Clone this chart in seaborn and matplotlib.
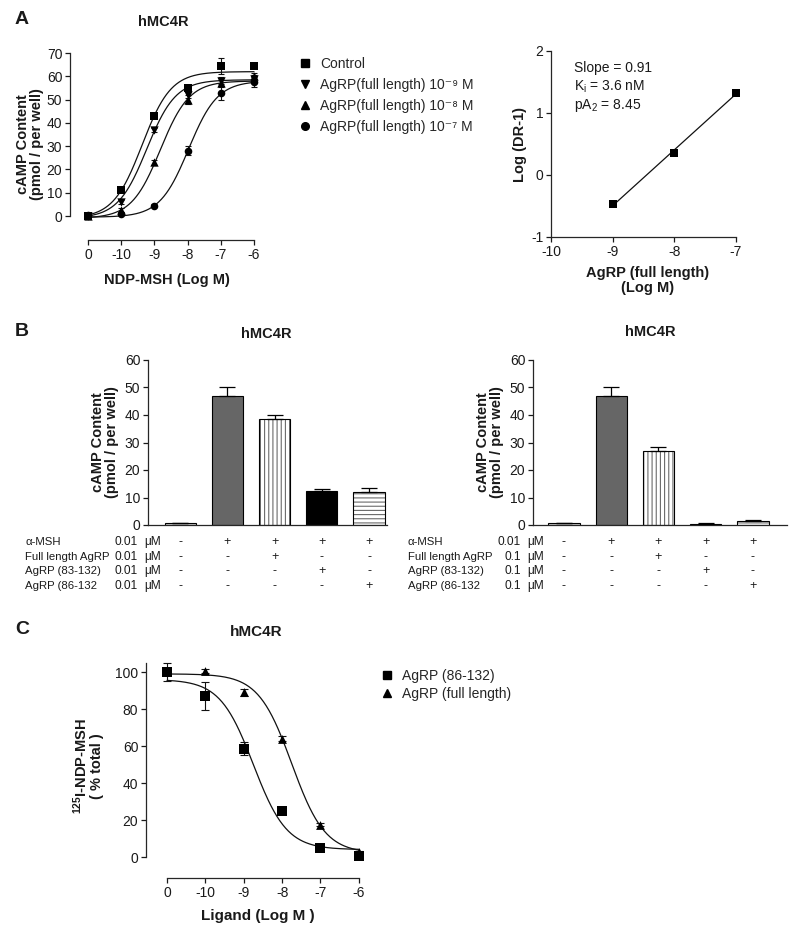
import numpy as np
import pandas as pd
import matplotlib
matplotlib.use("Agg")
import matplotlib.pyplot as plt
import matplotlib.transforms as mtransforms
import matplotlib.colors as mcolors
from matplotlib.lines import Line2D
import seaborn as sns

# ---------------- data ----------------
# Panel A (left): cAMP dose-response, NDP-MSH (log M); "0" = no agonist
a_x = [-11, -10, -9, -8, -7, -6]
a_xticklabels = ["0", "-10", "-9", "-8", "-7", "-6"]
a_labels = ["Control",
            "AgRP(full length) 10\u207b\u2079 M",
            "AgRP(full length) 10\u207b\u2078 M",
            "AgRP(full length) 10\u207b\u2077 M"]
a_control = [0.0, 11.0, 43.0, 55.0, 64.5, 64.5]
a_control_err = [0.8, 0.8, 0.8, 1.0, 3.5, 1.0]
a_ag9 = [0.0, 6.0, 37.0, 52.0, 58.0, 59.0]
a_ag9_err = [0.5, 0.8, 1.0, 1.2, 1.5, 1.5]
a_ag8 = [0.0, 2.5, 23.0, 50.0, 57.0, 60.0]
a_ag8_err = [0.5, 0.8, 1.0, 2.0, 1.5, 1.5]
a_ag7 = [0.5, 1.0, 4.5, 28.0, 53.0, 57.5]
a_ag7_err = [0.3, 0.3, 0.5, 2.0, 3.0, 2.0]
# fitted sigmoid parameters (bottom, top, logEC50)
a_fit_bottom = [-1.0, -1.0, -1.0, -0.5]
a_fit_top = [62.0, 58.5, 58.0, 58.0]
a_fit_logec50 = [-9.37, -9.23, -8.82, -7.97]

# Panel A (right): Schild plot
s_x = [-9, -8, -7]
s_y = [-0.47, 0.35, 1.33]
s_text = ["Slope = 0.91", "K$_{i}$ = 3.6 nM", "pA$_{2}$ = 8.45"]

# Panel B: bar charts
b_cats = ["basal", "aMSH", "full", "83-132", "86-132"]
b_left = [0.7, 47.0, 38.5, 12.5, 12.0]
b_left_err = [0.2, 3.0, 1.5, 0.7, 1.5]
b_right = [0.7, 47.0, 27.0, 0.5, 1.5]
b_right_err = [0.2, 3.0, 1.3, 0.1, 0.2]
b_row_labels = ["\u03b1-MSH", "Full length AgRP", "AgRP (83-132)", "AgRP (86-132"]
b_left_conc = ["0.01", "0.01", "0.01", "0.01"]
b_right_conc = ["0.01", "0.1", "0.1", "0.1"]
b_signs = [["-", "+", "+", "+", "+"],
           ["-", "-", "+", "-", "-"],
           ["-", "-", "-", "+", "-"],
           ["-", "-", "-", "-", "+"]]

# Panel C: binding displacement
c_x = [-11, -10, -9, -8, -7, -6]
c_xticklabels = ["0", "-10", "-9", "-8", "-7", "-6"]
c_labels = ["AgRP (86-132)", "AgRP (full length)"]
c_86 = [100.0, 87.0, 58.5, 25.0, 5.0, 0.5]
c_86_err = [5.0, 7.5, 3.5, 1.0, 0.6, 1.0]
c_full = [100.0, 100.5, 89.0, 64.0, 17.5, 2.5]
c_full_err = [1.0, 1.0, 2.0, 1.5, 1.0, 1.0]
c_fit_bottom = [4.0, 2.0]
c_fit_top = [96.0, 99.0]
c_fit_logic50 = [-8.75, -7.75]

# ---------------- style ----------------
sns.set_style("ticks")
plt.rcParams['font.family'] = ['Liberation Sans', 'DejaVu Sans']
plt.rcParams['mathtext.fontset'] = 'custom'
plt.rcParams['mathtext.rm'] = 'Liberation Sans'
plt.rcParams['mathtext.it'] = 'Liberation Sans:italic'
plt.rcParams['mathtext.bf'] = 'Liberation Sans:bold'
plt.rcParams['mathtext.default'] = 'regular'
plt.rcParams['axes.unicode_minus'] = False
plt.rcParams['axes.linewidth'] = 0.9
plt.rcParams['xtick.major.size'] = 3.5
plt.rcParams['ytick.major.size'] = 3.5
plt.rcParams['xtick.major.width'] = 0.9
plt.rcParams['ytick.major.width'] = 0.9
plt.rcParams['hatch.linewidth'] = 0.8
TXT = '#1a1a1a'

W, H = 800, 940
fig = plt.figure(figsize=(W / 100, H / 100), dpi=100)


def px_axes(l, t, r, b):
    return fig.add_axes([l / W, 1 - b / H, (r - l) / W, (b - t) / H])


def ftext(x, y, s, **kw):
    fig.text(x / W, 1 - y / H, s, **kw)


def sig_up(x, bottom, top, logec):
    return bottom + (top - bottom) / (1 + 10 ** (logec - x))


def sig_down(x, bottom, top, logic):
    return bottom + (top - bottom) / (1 + 10 ** (x - logic))


def prism(ax):
    sns.despine(ax=ax)
    ax.tick_params(labelsize=10, pad=2, colors=TXT)


# ---------------- Panel A left ----------------
axA = px_axes(70, 48, 264, 240)
a_vals = [a_control, a_ag9, a_ag8, a_ag7]
a_errs = [a_control_err, a_ag9_err, a_ag8_err, a_ag7_err]
a_markers = ['s', 'v', '^', 'o']
a_ms = [34, 36, 36, 30]
xs = np.linspace(a_x[0], a_x[-1], 200)
for vals, errs, mk, s, b, t, ec in zip(a_vals, a_errs, a_markers, a_ms,
                                       a_fit_bottom, a_fit_top, a_fit_logec50):
    sns.lineplot(x=xs, y=sig_up(xs, b, t, ec), color='#111', lw=0.9, ax=axA)
    axA.errorbar(a_x, vals, yerr=errs, fmt='none', ecolor='#111', elinewidth=0.8,
                 capsize=2.5, capthick=0.8)
    sns.scatterplot(x=a_x, y=vals, marker=mk, s=s, color='black', edgecolor='black',
                    linewidth=0, ax=axA, zorder=5, clip_on=False)
axA.set_xlim(-11.54, -5.70)
axA.set_ylim(-10.3, 72.15)
axA.set_xticks(a_x)
axA.set_xticklabels(a_xticklabels)
axA.set_yticks(range(0, 71, 10))
prism(axA)
axA.spines['left'].set_bounds(0, 70)
axA.spines['bottom'].set_bounds(-11, -6)
axA.set_ylabel("cAMP Content\n(pmol / per well)", fontsize=10.5, fontweight='bold',
               labelpad=2, linespacing=1.0, color=TXT)
axA.set_xlabel("NDP-MSH (Log M)", fontsize=10.5, fontweight='bold', labelpad=8, color=TXT)

handles = [Line2D([], [], ls='none', marker=m, color='black', ms=5.5) for m in a_markers]
fig.legend(handles, a_labels, loc='upper left', bbox_to_anchor=(292 / W, 1 - 51 / H),
           frameon=False, fontsize=10, handletextpad=0.6, labelspacing=0.52,
           handlelength=1.0, borderaxespad=0)

# ---------------- Panel A right ----------------
axS = px_axes(551, 51, 745, 237)
coef = np.polyfit(s_x, s_y, 1)
sx = np.array([s_x[0], s_x[-1]], dtype=float)
sns.lineplot(x=sx, y=np.polyval(coef, sx), color='#111', lw=0.9, ax=axS)
sns.scatterplot(x=s_x, y=s_y, marker='s', s=40, color='black', linewidth=0,
                ax=axS, zorder=5, clip_on=False)
axS.set_xlim(-10, -6.85)
axS.set_ylim(-1, 2)
axS.set_xticks([-10, -9, -8, -7])
axS.set_xticklabels(["-10", "-9", "-8", "-7"])
axS.set_yticks([-1, 0, 1, 2])
axS.set_yticklabels(["-1", "0", "1", "2"])
prism(axS)
axS.spines['bottom'].set_bounds(-10, -7)
axS.set_ylabel("Log (DR-1)", fontsize=10.5, fontweight='bold', labelpad=3, color=TXT)
axS.set_xlabel("AgRP (full length)\n(Log M)", fontsize=10.5, fontweight='bold',
               labelpad=5, linespacing=1.1, color=TXT)
for i, s in enumerate(s_text):
    ftext(574, 68 + i * 19, s, fontsize=10, va='center', ha='left', color=TXT)

# ---------------- Panel B ----------------
b_colors = {"basal": "#cfcfcf", "aMSH": "#666666", "full": "white",
            "83-132": "black", "86-132": "white"}
b_hatch = {2: '||||', 4: '----'}
row_y = [542, 557, 571, 586]


def bar_panel(ax, vals, errs, conc, label_x, conc_x, xl):
    df = pd.DataFrame({'cond': b_cats, 'val': vals})
    sns.barplot(data=df, x='cond', y='val', hue='cond', palette=b_colors, legend=False,
                width=0.66, edgecolor='black', linewidth=0.8, errorbar=None, ax=ax)
    for i, p in enumerate(ax.patches):
        if i in b_hatch:
            p.set_hatch(b_hatch[i])
            try:
                p._hatch_color = mcolors.to_rgba('#6a6a6a')
            except Exception:
                pass
    pos = np.arange(len(vals))
    ax.errorbar(pos, vals, yerr=[np.zeros(len(vals)), errs], fmt='none', ecolor='black',
                elinewidth=0.9, capsize=6, capthick=0.9, zorder=4)
    ax.set_xlim(*xl)
    ax.set_ylim(0, 60)
    ax.set_yticks(range(0, 61, 10))
    ax.set_xticks([])
    ax.set_xlabel("")
    prism(ax)
    ax.set_ylabel("cAMP Content\n(pmol / per well)", fontsize=10.5, fontweight='bold',
                  labelpad=4, linespacing=1.0, color=TXT)
    tr = mtransforms.blended_transform_factory(ax.transData, fig.transFigure)
    for r in range(4):
        yy = 1 - row_y[r] / H
        ftext(label_x, row_y[r], b_row_labels[r], fontsize=8.2, va='center', ha='left', color=TXT)
        ftext(conc_x, row_y[r], conc[r], fontsize=8.6, va='center', ha='right', color=TXT)
        ftext(conc_x + 6, row_y[r], "\u03bcM", fontsize=8.6, va='center', ha='left', color=TXT)
        for c in range(5):
            ax.text(pos[c], yy, b_signs[r][c], transform=tr, fontsize=9, ha='center',
                    va='center', color=TXT)


axB1 = px_axes(148, 360, 387, 525)
bar_panel(axB1, b_left, b_left_err, b_left_conc, 25, 138, (-0.68, 4.38))
axB2 = px_axes(533, 360, 787, 525)
bar_panel(axB2, b_right, b_right_err, b_right_conc, 408, 521, (-0.656, 4.72))

# ---------------- Panel C ----------------
axC = px_axes(146, 655, 370, 878)
xc = np.linspace(c_x[0], c_x[-1], 200)
c_vals = [c_86, c_full]
c_errs = [c_86_err, c_full_err]
c_markers = ['s', '^']
c_ms = [50, 40]
for vals, errs, mk, s, b, t, ic in zip(c_vals, c_errs, c_markers, c_ms,
                                       c_fit_bottom, c_fit_top, c_fit_logic50):
    sns.lineplot(x=xc, y=sig_down(xc, b, t, ic), color='#111', lw=0.9, ax=axC)
    axC.errorbar(c_x, vals, yerr=errs, fmt='none', ecolor='#111', elinewidth=0.8,
                 capsize=3, capthick=0.8)
for vals, mk, s in zip(c_vals[::-1], c_markers[::-1], c_ms[::-1]):
    sns.scatterplot(x=c_x, y=vals, marker=mk, s=s, color='black', linewidth=0,
                    ax=axC, zorder=5, clip_on=False)
axC.set_xlim(-11.547, -5.71)
axC.set_ylim(-11.35, 109.2)
axC.set_xticks(c_x)
axC.set_xticklabels(c_xticklabels)
axC.set_yticks(range(0, 101, 20))
prism(axC)
axC.spines['left'].set_bounds(0, 105)
axC.spines['bottom'].set_bounds(-11, -6)
axC.set_ylabel("$^{\\mathbf{125}}$I-NDP-MSH\n( % total )", fontsize=10.5, fontweight='bold',
               labelpad=8, linespacing=1.05, color=TXT)
axC.set_xlabel("Ligand (Log M )", fontsize=11, fontweight='bold', labelpad=7, color=TXT)
handlesC = [Line2D([], [], ls='none', marker=m, color='black', ms=6) for m in c_markers]
fig.legend(handlesC, c_labels, loc='upper left', bbox_to_anchor=(374 / W, 1 - 663 / H),
           frameon=False, fontsize=10, handletextpad=0.6, labelspacing=0.3,
           handlelength=1.0, borderaxespad=0)

# ---------------- titles / panel letters ----------------
ftext(22, 20, "A", fontsize=14, fontweight='bold', ha='center', va='center', color=TXT)
ftext(22, 332, "B", fontsize=14, fontweight='bold', ha='center', va='center', color=TXT)
ftext(22, 630, "C", fontsize=14, fontweight='bold', ha='center', va='center', color=TXT)
ftext(163, 22, "hMC4R", fontsize=10.5, fontweight='bold', ha='center', va='center', color=TXT)
ftext(266, 334, "hMC4R", fontsize=10.5, fontweight='bold', ha='center', va='center', color=TXT)
ftext(650, 332, "hMC4R", fontsize=10.5, fontweight='bold', ha='center', va='center', color=TXT)
ftext(256, 632, "hMC4R", fontsize=11, fontweight='bold', ha='center', va='center', color=TXT)

fig.savefig("out.png", dpi=100)
